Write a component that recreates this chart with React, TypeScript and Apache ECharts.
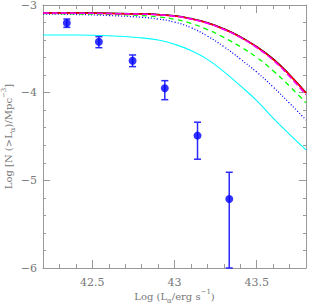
import React, { useEffect, useRef } from "react";
import * as echarts from "echarts";

// Model curves: x grid (Log L) and Log N values
const curveX = [42.2, 42.4, 42.6, 42.8, 42.9, 43.0, 43.1, 43.2, 43.3, 43.4, 43.5, 43.6, 43.7, 43.8];
const blackY = [-3.088, -3.089, -3.094, -3.1, -3.107, -3.122, -3.155, -3.203, -3.272, -3.362, -3.475, -3.615, -3.795, -4.0];
const redY = [-3.091, -3.092, -3.097, -3.103, -3.11, -3.125, -3.158, -3.206, -3.275, -3.365, -3.479, -3.62, -3.8, -4.003];
const magentaY = [-3.092, -3.093, -3.098, -3.104, -3.111, -3.127, -3.16, -3.209, -3.279, -3.37, -3.486, -3.63, -3.815, -4.025];
const greenY = [-3.097, -3.102, -3.108, -3.12, -3.135, -3.162, -3.21, -3.28, -3.37, -3.475, -3.597, -3.75, -3.925, -4.117];
const blueDotY = [-3.103, -3.108, -3.12, -3.14, -3.16, -3.195, -3.258, -3.355, -3.475, -3.615, -3.765, -3.935, -4.12, -4.311];
const cyanY = [-3.342, -3.342, -3.35, -3.375, -3.4, -3.448, -3.52, -3.62, -3.76, -3.92, -4.09, -4.29, -4.475, -4.653];

// Observed points with error bars
const obsX = [42.345, 42.54, 42.745, 42.941, 43.14, 43.333];
const obsY = [-3.205, -3.42, -3.635, -3.95, -4.49, -5.212];
const obsHigh = [-3.16, -3.361, -3.57, -3.863, -4.337, -4.908];
const obsLow = [-3.255, -3.487, -3.703, -4.08, -4.759, -6.0];

// Axes
const xMin = 42.2, xMax = 43.8;
const yMin = -6, yMax = -3;
const xMajor = [42.5, 43, 43.5];
const yMajor = [-6, -5, -4, -3];

const FONT = "DejaVu Serif";
const AXIS_COLOR = "#999";
const TEXT_COLOR = "#777";

const zip = (xs: number[], ys: number[]) => xs.map((x, i) => [x, ys[i]]);

export default function App() {
  const ref = useRef<HTMLDivElement>(null);
  useEffect(() => {
    document.body.style.margin = "0";
    const chart = echarts.init(ref.current!, null, { renderer: "svg" });
    const lineBase = (name: string, ys: number[], color: string, width: number, type: any) => ({
      name,
      type: "line",
      data: zip(curveX, ys),
      xAxisIndex: 0,
      yAxisIndex: 0,
      showSymbol: false,
      symbol: "none",
      smooth: 0.5,
      lineStyle: { color, width, type },
      z: 2,
    });
    const minorAxisX = (position: string, showLabel: boolean) => ({
      type: "value",
      min: xMin,
      max: xMax,
      interval: 0.1,
      position,
      axisLine: { show: true, onZero: false, lineStyle: { color: AXIS_COLOR, width: 1 } },
      axisTick: { show: true, inside: true, length: 4, lineStyle: { color: AXIS_COLOR } },
      axisLabel: {
        show: showLabel,
        margin: 9,
        color: TEXT_COLOR,
        fontFamily: FONT,
        fontSize: 11,
        showMinLabel: false,
        showMaxLabel: false,
        formatter: (v: number) =>
          Math.abs(v * 2 - Math.round(v * 2)) < 1e-6 ? String(Math.round(v * 2) / 2) : "",
      },
      splitLine: { show: false },
    });
    const majorAxisX = (position: string) => ({
      type: "value",
      min: xMin,
      max: xMax,
      position,
      axisLine: { show: false, onZero: false },
      axisTick: { show: true, inside: true, length: 8, customValues: xMajor, lineStyle: { color: AXIS_COLOR } },
      axisLabel: { show: false },
      splitLine: { show: false },
    });
    const minorAxisY = (position: string, showLabel: boolean) => ({
      type: "value",
      min: yMin,
      max: yMax,
      interval: 0.2,
      position,
      axisLine: { show: true, onZero: false, lineStyle: { color: AXIS_COLOR, width: 1 } },
      axisTick: { show: true, inside: true, length: 3, lineStyle: { color: AXIS_COLOR } },
      axisLabel: {
        show: showLabel,
        margin: 6,
        color: TEXT_COLOR,
        fontFamily: FONT,
        fontSize: 11,
        formatter: (v: number) =>
          Math.abs(v - Math.round(v)) < 1e-6 ? "\u2212" + Math.abs(Math.round(v)) : "",
      },
      splitLine: { show: false },
    });
    const majorAxisY = (position: string) => ({
      type: "value",
      min: yMin,
      max: yMax,
      position,
      axisLine: { show: false, onZero: false },
      axisTick: { show: true, inside: true, length: 7, customValues: yMajor, lineStyle: { color: AXIS_COLOR } },
      axisLabel: { show: false },
      splitLine: { show: false },
    });

    const rich = {
      a: { fontFamily: FONT, fontSize: 10, color: TEXT_COLOR, lineHeight: 16 },
      sub: { fontFamily: FONT, fontSize: 7, color: TEXT_COLOR, lineHeight: 9, verticalAlign: "bottom" },
      sup: { fontFamily: FONT, fontSize: 7, color: TEXT_COLOR, lineHeight: 9, verticalAlign: "top" },
    };

    const xA: any = minorAxisX("bottom", true);
    xA.name = "{a|Log (L}{sub|\u03b1}{a|/erg s}{sup|\u22121}{a|)}";
    xA.nameLocation = "middle";
    xA.nameGap = 20;
    xA.nameMoveOverlap = false;
    xA.nameTextStyle = { rich };
    const yA: any = minorAxisY("left", true);
    yA.name = "{a|Log [N (>L}{sub|\u03b1}{a|)/Mpc}{sup|\u22123}{a|]}";
    yA.nameLocation = "middle";
    yA.nameGap = 27;
    yA.nameRotate = 90;
    yA.nameMoveOverlap = false;
    yA.nameTextStyle = { rich };

    chart.setOption({
      animation: false,
      backgroundColor: "#fff",
      grid: { left: 43, right: 4, top: 5, bottom: 37, containLabel: false, outerBoundsMode: "none" },
      xAxis: [xA, majorAxisX("bottom"), minorAxisX("top", false), majorAxisX("top")],
      yAxis: [yA, majorAxisY("left"), minorAxisY("right", false), majorAxisY("right")],
      series: [
        lineBase("cyan", cyanY, "#00ffff", 1.1, "solid"),
        lineBase("blueDot", blueDotY, "#0000ff", 1.3, [1, 2]),
        lineBase("green", greenY, "#00ff00", 1.3, [5, 4]),
        lineBase("black", blackY, "#000000", 1.5, "solid"),
        lineBase("red", redY, "#ff0000", 1.5, "solid"),
        lineBase("magenta", magentaY, "#ff00ff", 1.5, [6, 3]),
        {
          name: "errors",
          type: "custom",
          xAxisIndex: 0,
          yAxisIndex: 0,
          data: obsX.map((x, i) => [x, obsLow[i], obsHigh[i]]),
          encode: { x: 0, y: [1, 2] },
          clip: false,
          z: 3,
          renderItem: (params: any, api: any) => {
            const x = api.value(0);
            const lo = api.coord([x, api.value(1)]);
            const hi = api.coord([x, api.value(2)]);
            const hw = 3.5;
            const style = { stroke: "#2a2aff", lineWidth: 1.5 };
            return {
              type: "group",
              children: [
                { type: "line", shape: { x1: lo[0], y1: lo[1], x2: hi[0], y2: hi[1] }, style },
                { type: "line", shape: { x1: lo[0] - hw, y1: lo[1], x2: lo[0] + hw, y2: lo[1] }, style },
                { type: "line", shape: { x1: hi[0] - hw, y1: hi[1], x2: hi[0] + hw, y2: hi[1] }, style },
              ],
            };
          },
        },
        {
          name: "obs",
          type: "scatter",
          xAxisIndex: 0,
          yAxisIndex: 0,
          data: zip(obsX, obsY),
          symbol: "circle",
          symbolSize: 8,
          itemStyle: { color: "#0000ff" },
          z: 4,
        },
      ],
    });
    return () => chart.dispose();
  }, []);
  return <div ref={ref} style={{ width: 310, height: 305 }} />;
}
